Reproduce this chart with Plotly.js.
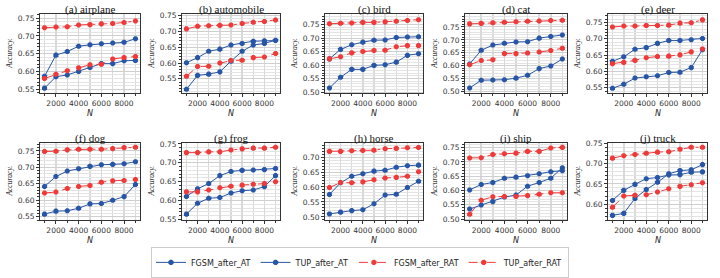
<!DOCTYPE html>
<html>
<head>
<meta charset="utf-8">
<script src="https://cdn.plot.ly/plotly-3.0.1.min.js"></script>
<style>html,body{margin:0;padding:0;background:#fff;}#chart{width:720px;height:278px;}</style>
</head>
<body>
<div id="chart"></div>
<script>
const N = [1000, 2000, 3000, 4000, 5000, 6000, 7000, 8000, 9000];
const categories = ["(a) airplane", "(b) automobile", "(c) bird", "(d) cat", "(e) deer",
                    "(f) dog", "(g) frog", "(h) horse", "(i) ship", "(j) truck"];
const seriesNames = ["FGSM_after_AT", "TUP_after_AT", "FGSM_after_RAT", "TUP_after_RAT"];

const FGSM_after_AT = [
  [0.553,0.585,0.590,0.600,0.611,0.622,0.622,0.630,0.631],
  [0.517,0.561,0.565,0.572,0.606,0.637,0.657,0.662,0.672],
  [0.515,0.555,0.584,0.584,0.599,0.601,0.611,0.636,0.642],
  [0.514,0.544,0.545,0.546,0.552,0.563,0.589,0.599,0.626],
  [0.549,0.561,0.580,0.584,0.587,0.597,0.598,0.612,0.667],
  [0.558,0.567,0.568,0.576,0.589,0.590,0.600,0.611,0.648],
  [0.564,0.593,0.606,0.608,0.620,0.626,0.628,0.637,0.666],
  [0.510,0.516,0.521,0.524,0.544,0.573,0.576,0.598,0.619],
  [0.535,0.549,0.561,0.577,0.584,0.615,0.628,0.643,0.680],
  [0.572,0.577,0.614,0.636,0.654,0.675,0.683,0.685,0.698]
];
const TUP_after_AT = [
  [0.586,0.646,0.656,0.671,0.675,0.678,0.680,0.682,0.692],
  [0.601,0.617,0.637,0.644,0.657,0.662,0.669,0.670,0.671],
  [0.623,0.658,0.675,0.685,0.692,0.693,0.702,0.704,0.705],
  [0.607,0.660,0.680,0.687,0.692,0.693,0.707,0.713,0.719],
  [0.631,0.645,0.668,0.673,0.686,0.695,0.695,0.697,0.701],
  [0.642,0.672,0.689,0.696,0.703,0.708,0.709,0.711,0.717],
  [0.611,0.631,0.645,0.666,0.677,0.680,0.681,0.682,0.685],
  [0.575,0.614,0.636,0.644,0.653,0.656,0.666,0.671,0.673],
  [0.602,0.621,0.628,0.643,0.647,0.652,0.659,0.666,0.669],
  [0.609,0.634,0.649,0.663,0.666,0.672,0.673,0.679,0.680]
];
const FGSM_after_RAT = [
  [0.580,0.592,0.602,0.610,0.619,0.620,0.635,0.639,0.642],
  [0.558,0.589,0.590,0.600,0.608,0.609,0.617,0.619,0.630],
  [0.623,0.631,0.645,0.650,0.654,0.655,0.668,0.672,0.672],
  [0.604,0.620,0.623,0.647,0.647,0.649,0.653,0.659,0.668],
  [0.624,0.628,0.634,0.642,0.646,0.647,0.651,0.660,0.669],
  [0.622,0.625,0.636,0.642,0.645,0.655,0.659,0.660,0.663],
  [0.623,0.623,0.628,0.634,0.638,0.641,0.643,0.645,0.650],
  [0.598,0.615,0.614,0.617,0.624,0.630,0.632,0.636,0.651],
  [0.517,0.566,0.578,0.579,0.579,0.582,0.587,0.592,0.592],
  [0.592,0.620,0.622,0.623,0.630,0.638,0.644,0.648,0.653]
];
const TUP_after_RAT = [
  [0.723,0.725,0.726,0.731,0.732,0.734,0.735,0.738,0.742],
  [0.708,0.716,0.718,0.719,0.720,0.725,0.729,0.731,0.736],
  [0.753,0.755,0.756,0.758,0.758,0.760,0.762,0.765,0.768],
  [0.762,0.764,0.766,0.768,0.770,0.772,0.773,0.775,0.776],
  [0.736,0.739,0.739,0.741,0.741,0.742,0.748,0.749,0.758],
  [0.748,0.749,0.753,0.755,0.755,0.755,0.757,0.760,0.761],
  [0.727,0.727,0.729,0.729,0.734,0.737,0.739,0.739,0.741],
  [0.719,0.719,0.721,0.722,0.723,0.728,0.729,0.731,0.732],
  [0.714,0.715,0.726,0.729,0.731,0.737,0.737,0.749,0.751],
  [0.714,0.720,0.723,0.726,0.729,0.730,0.736,0.741,0.741]
];

const yRanges = [[0.538,0.761],[0.504,0.754],[0.495,0.788],[0.493,0.799],[0.533,0.775],
                 [0.5395,0.774],[0.548,0.7525],[0.489,0.747],[0.496,0.7665],[0.560,0.7516]];

const W = 720, H = 278;
const lefts = [40, 182, 325, 465, 608];
const rights = [140, 280, 423, 567, 707];
const rowTop = [15, 150], rowBot = [98, 231];

const BLUE = '#2856a6', RED = '#f03a3a';
const styles = [
  {color: BLUE, dash: 'solid'},
  {color: BLUE, dash: 'solid'},
  {color: RED, dash: 'dash'},
  {color: RED, dash: 'dashdot'}
];
const allSeries = [FGSM_after_AT, TUP_after_AT, FGSM_after_RAT, TUP_after_RAT];

const traces = [];
const layout = {
  width: W, height: H,
  margin: {l: 0, r: 0, t: 0, b: 0},
  paper_bgcolor: '#fff', plot_bgcolor: '#fff',
  font: {family: 'DejaVu Sans', size: 7.5, color: '#333'},
  showlegend: true,
  legend: {
    orientation: 'h', x: 0.5, xanchor: 'center', y: 1 - 259/H, yanchor: 'top',
    bordercolor: '#cccccc', borderwidth: 1, font: {family: 'DejaVu Sans', size: 8, color: '#222'},
    itemwidth: 30, tracegroupgap: 0
  },
  annotations: []
};

for (let p = 0; p < 10; p++) {
  const row = Math.floor(p / 5), col = p % 5;
  const ax = p === 0 ? '' : String(p + 1);
  const xd = [lefts[col] / W, rights[col] / W];
  const yd = [1 - rowBot[row] / H, 1 - rowTop[row] / H];
  layout['xaxis' + ax] = {
    domain: xd, anchor: 'y' + ax, range: [600, 9400],
    tick0: 0, dtick: 2000, ticks: 'outside', ticklen: 3, tickcolor: '#333',
    showgrid: true, gridcolor: '#d9d9d9', gridwidth: 1.5,
    minor: {dtick: 1000, showgrid: true, gridcolor: '#d9d9d9', gridwidth: 1.5, ticks: 'outside', ticklen: 2, tickcolor: '#333'},
    showline: true, mirror: true, linecolor: '#333', linewidth: 1,
    zeroline: false, tickfont: {family: 'DejaVu Sans', size: 7.5, color: '#333'},
    tickformat: 'd', fixedrange: true
  };
  layout['yaxis' + ax] = {
    domain: yd, anchor: 'x' + ax, range: yRanges[p],
    tick0: 0, dtick: 0.05, tickformat: '.2f', ticks: 'outside', ticklen: 3, tickcolor: '#333',
    showgrid: true, gridcolor: '#cfcfcf', gridwidth: 1,
    minor: {dtick: 0.01, showgrid: true, gridcolor: '#e4e4e4', gridwidth: 1, ticks: 'outside', ticklen: 2, tickcolor: '#333'},
    showline: true, mirror: true, linecolor: '#333', linewidth: 1,
    zeroline: false, tickfont: {family: 'DejaVu Sans', size: 7.5, color: '#333'}, fixedrange: true
  };
  const cx = (lefts[col] + rights[col]) / 2 / W;
  layout.annotations.push({
    text: categories[p], xref: 'paper', yref: 'paper', x: cx, y: 1 - (rowTop[row] - 5) / H,
    xanchor: 'center', yanchor: 'middle', showarrow: false,
    font: {family: 'Liberation Serif', size: 11, color: '#111'}
  });
  layout.annotations.push({
    text: 'N', xref: 'paper', yref: 'paper', x: cx, y: 1 - (rowBot[row] + 14) / H,
    xanchor: 'center', yanchor: 'top', showarrow: false,
    font: {family: 'DejaVu Sans', size: 8, color: '#222', style: 'italic'}
  });
  layout.annotations.push({
    text: 'Accuracy.', xref: 'paper', yref: 'paper', x: (lefts[col] - 30) / W,
    y: (yd[0] + yd[1]) / 2, xanchor: 'center', yanchor: 'middle', showarrow: false, textangle: -90,
    font: {family: 'Liberation Serif', size: 7.5, color: '#222', style: 'italic'}
  });
  for (let s = 0; s < 4; s++) {
    traces.push({
      type: 'scatter', mode: 'lines+markers',
      x: N, y: allSeries[s][p],
      xaxis: 'x' + ax, yaxis: 'y' + ax,
      name: seriesNames[s], legendgroup: seriesNames[s], showlegend: p === 0,
      line: {color: styles[s].color, width: 1, dash: styles[s].dash},
      marker: {color: styles[s].color, size: 5.5, symbol: 'octagon'},
      hoverinfo: 'skip'
    });
  }
}

Plotly.newPlot('chart', traces, layout, {staticPlot: true, displayModeBar: false});
</script>
</body>
</html>
